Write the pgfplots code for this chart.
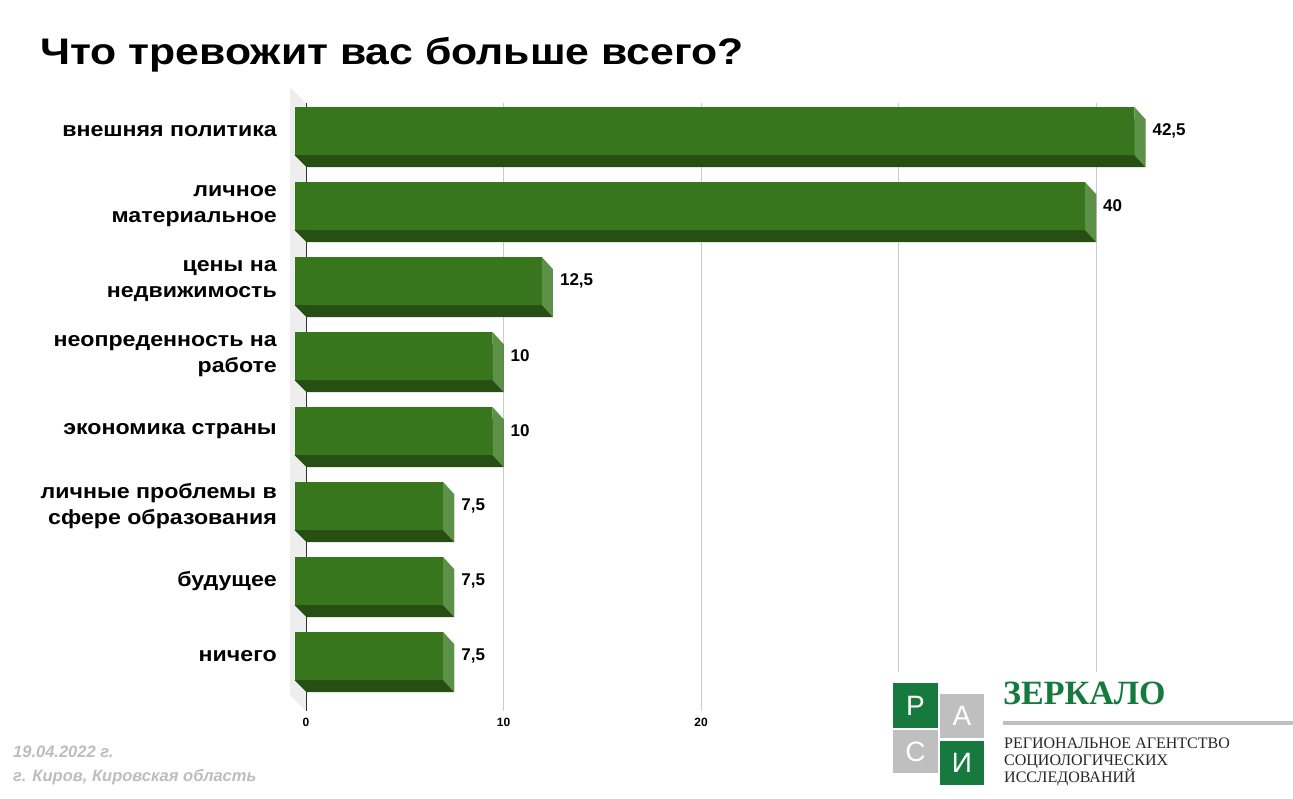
\documentclass[border=0pt]{standalone}
\usepackage{pgfplots}
\pgfplotsset{compat=1.18}
\usepackage{pgfplotstable}
\usepackage{fontspec}
\setmainfont{Liberation Sans}
\newfontfamily\titlefont[FakeStretch=1.155]{Liberation Sans}
\newfontfamily\labfont[FakeStretch=1.13]{Liberation Sans}
\newfontfamily\serifLogo{Liberation Serif}
\definecolor{barfront}{HTML}{38761D}
\definecolor{barbottom}{HTML}{274E13}
\definecolor{barside}{HTML}{5E9148}
\definecolor{wallc}{HTML}{EEEEEE}
\definecolor{gridc}{HTML}{CCCCCC}
\definecolor{logogreen}{HTML}{167A3E}
\definecolor{logogray}{HTML}{BFBFBF}
\definecolor{footgray}{HTML}{BDBDBD}

\pgfplotstableread{
idx val lab
0 42.5 {42,5}
1 40 40
2 12.5 {12,5}
3 10 10
4 10 10
5 7.5 {7,5}
6 7.5 {7,5}
7 7.5 {7,5}
}\datatable

\pgfdeclareplotmark{sideface}{%
  \pgfpathmoveto{\pgfpoint{-11pt}{36pt}}%
  \pgfpathlineto{\pgfpoint{0pt}{24pt}}%
  \pgfpathlineto{\pgfpoint{0pt}{-24pt}}%
  \pgfpathlineto{\pgfpoint{-11pt}{-12pt}}%
  \pgfpathclose\pgfusepathqfill}
\pgfdeclareplotmark{lefttri}{%
  \pgfpathmoveto{\pgfpoint{-11.5pt}{-12pt}}%
  \pgfpathlineto{\pgfpoint{0.5pt}{-12pt}}%
  \pgfpathlineto{\pgfpoint{0.5pt}{-24pt}}%
  \pgfpathclose\pgfusepathqfill}

\begin{document}
\begin{tikzpicture}
\path[use as bounding box] (0,0) rectangle (1293pt,-799pt);

% title
\node[anchor=west, inner sep=0pt, font=\titlefont\bfseries\fontsize{37}{40}\selectfont] at (40pt,-55pt) {Что тревожит вас больше всего?};

\begin{axis}[
  at={(306pt,-711pt)}, anchor=south west,
  scale only axis,
  width=888.75pt, height=607.95pt,
  xmin=0, xmax=45,
  ymin=-0.5333, ymax=7.5733,
  y dir=reverse,
  clip=false,
  axis line style={draw=none},
  major tick length=0pt,
  xtick={0,10,20,30,40},
  xticklabels={0,10,20,,},
  xmajorgrids,
  grid style={draw=gridc, line width=0.8pt},
  xticklabel style={font=\bfseries\fontsize{12}{12}\selectfont, yshift=-4pt},
  /pgf/number format/assume math mode=true,
  ytick={0,...,7},
  yticklabels={
    {внешняя политика},
    {личное\\материальное},
    {цены на\\недвижимость},
    {неопреденность на\\работе},
    {экономика страны},
    {личные проблемы в\\сфере образования},
    {будущее},
    {ничего}},
  yticklabel style={align=right, anchor=east, inner sep=0pt, xshift=-29pt, yshift=12pt,
    font=\labfont\bfseries\fontsize{20.5}{25.5}\selectfont},
]
% left wall
\addplot[fill=wallc, draw=none] coordinates {(-0.810,-0.7467) (0,-0.5333) (0,7.5733) (-0.810,7.36)} --cycle;
% axis line at zero
\addplot[draw=black!80, line width=1pt] coordinates {(0,-0.5333) (0,7.5733)};
% back rectangles (bottom face)
\addplot[xbar, bar width=48pt, fill=barbottom, draw=none,
  nodes near coords, point meta=explicit symbolic,
  nodes near coords align={horizontal},
  every node near coord/.append style={anchor=west, inner sep=0pt, xshift=7pt, yshift=12pt,
    font=\bfseries\fontsize{17}{17}\selectfont, text=black}]
  table[x=val, y=idx, meta=lab] {\datatable};
% bottom-left triangle of bottom face
\addplot[only marks, mark=lefttri, mark options={fill=barbottom, draw=none}]
  table[x expr=0, y=idx] {\datatable};
% side face
\addplot[only marks, mark=sideface, mark options={fill=barside, draw=none}]
  table[x=val, y=idx] {\datatable};
% front face
\addplot[xbar, bar width=48pt, fill=barfront, draw=none, xshift=-11pt, yshift=12pt]
  table[x=val, y=idx] {\datatable};
\end{axis}

% footer
\node[anchor=west, inner sep=0pt, text=footgray, font=\bfseries\itshape\fontsize{16.5}{16.5}\selectfont] at (13pt,-752pt) {19.04.2022 г.};
\node[anchor=west, inner sep=0pt, text=footgray, font=\bfseries\itshape\fontsize{16.5}{16.5}\selectfont] at (13pt,-777pt) {г. Киров, Кировская область};

% logo
\fill[white] (885pt,-672pt) rectangle (1293pt,-799pt);
\fill[logogreen] (893pt,-683pt) rectangle (938pt,-728pt);
\fill[logogray] (940pt,-694pt) rectangle (984pt,-738pt);
\fill[logogray] (893pt,-730pt) rectangle (938pt,-773pt);
\fill[logogreen] (940pt,-741pt) rectangle (984pt,-785pt);
\node[text=white, font=\fontsize{28}{28}\selectfont] at (915.5pt,-705.5pt) {Р};
\node[text=white, font=\fontsize{28}{28}\selectfont] at (962pt,-716pt) {А};
\node[text=white, font=\fontsize{28}{28}\selectfont] at (915.5pt,-751.5pt) {С};
\node[text=white, font=\fontsize{28}{28}\selectfont] at (962pt,-763pt) {И};
\node[anchor=west, inner sep=0pt, text=logogreen, font=\serifLogo\bfseries\fontsize{34}{34}\selectfont] at (1003pt,-693pt) {ЗЕРКАЛО};
\fill[logogray] (1003pt,-721pt) rectangle (1293pt,-725pt);
\node[anchor=north west, inner sep=0pt, align=left, text=black!85, font=\serifLogo\fontsize{16}{17}\selectfont] at (1004pt,-738pt) {РЕГИОНАЛЬНОЕ АГЕНТСТВО\\СОЦИОЛОГИЧЕСКИХ\\ИССЛЕДОВАНИЙ};
\end{tikzpicture}
\end{document}
